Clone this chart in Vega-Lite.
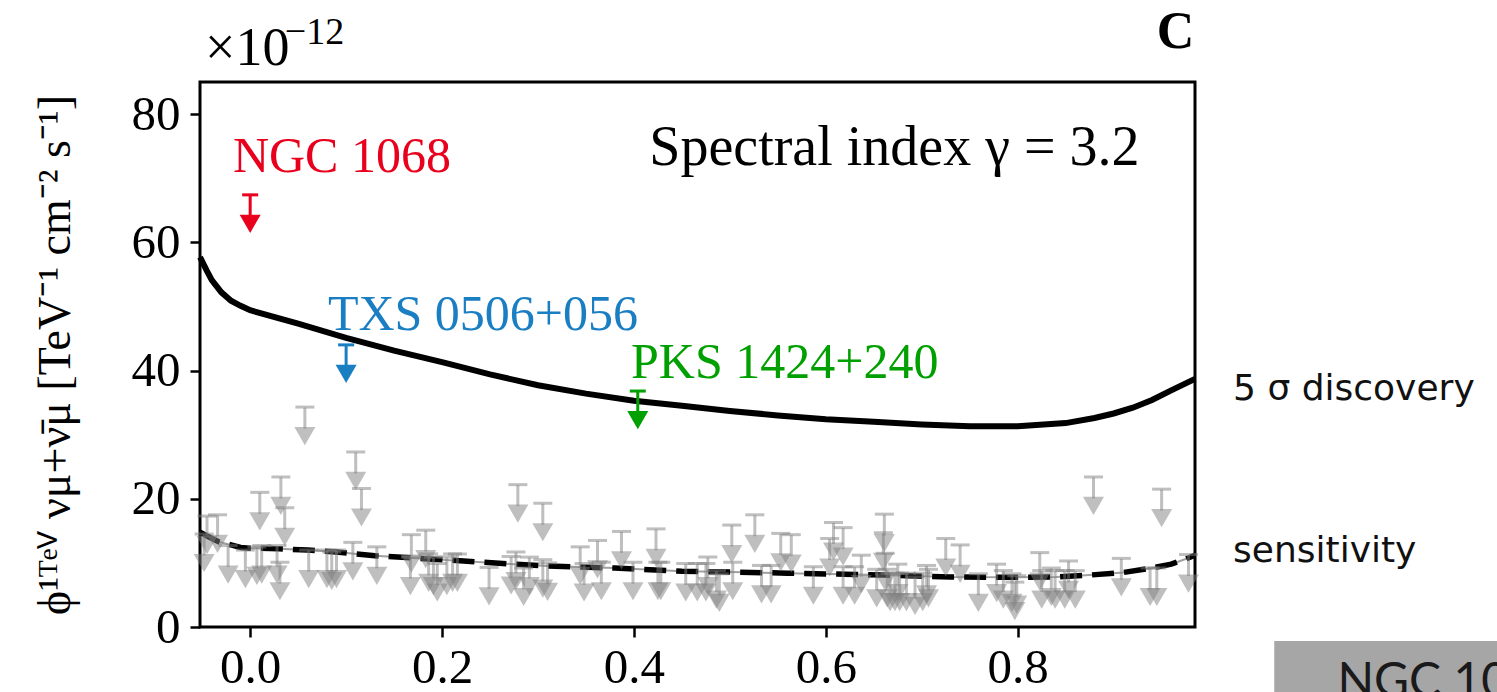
{
  "$schema": "https://vega.github.io/schema/vega-lite/v6.json",
  "width": 995,
  "height": 545,
  "autosize": {"type": "none"},
  "padding": {"left": 200, "top": 82, "right": 302, "bottom": 65},
  "background": "white",
  "config": {
    "view": {"stroke": "black", "strokeWidth": 3},
    "axis": {
      "domain": false, "grid": false, "tickColor": "black", "tickWidth": 2.5, "tickSize": 10,
      "labelFont": "Liberation Serif", "labelFontSize": 49, "labelColor": "black",
      "titleFont": "Liberation Serif", "titleFontWeight": "normal", "titleColor": "black"
    }
  },
  "datasets": {
    "discovery": [
      {"x": -0.0523, "flux": 57.7}, {"x": -0.045, "flux": 55.5}, {"x": -0.04, "flux": 54.1},
      {"x": -0.03, "flux": 52.2}, {"x": -0.02, "flux": 50.9}, {"x": -0.01, "flux": 50.1},
      {"x": 0.0, "flux": 49.4}, {"x": 0.05, "flux": 47.3}, {"x": 0.1, "flux": 45.1},
      {"x": 0.15, "flux": 43.1}, {"x": 0.2, "flux": 41.3}, {"x": 0.25, "flux": 39.4},
      {"x": 0.3, "flux": 37.7}, {"x": 0.35, "flux": 36.4}, {"x": 0.4, "flux": 35.3},
      {"x": 0.45, "flux": 34.5}, {"x": 0.5, "flux": 33.7}, {"x": 0.55, "flux": 33.0},
      {"x": 0.6, "flux": 32.4}, {"x": 0.65, "flux": 32.0}, {"x": 0.7, "flux": 31.6},
      {"x": 0.75, "flux": 31.3}, {"x": 0.8, "flux": 31.3}, {"x": 0.85, "flux": 31.8},
      {"x": 0.88, "flux": 32.6}, {"x": 0.9, "flux": 33.3}, {"x": 0.92, "flux": 34.2},
      {"x": 0.94, "flux": 35.4}, {"x": 0.96, "flux": 36.9}, {"x": 0.9848, "flux": 38.7}
    ],
    "sensitivity": [
      {"x": -0.0523, "flux": 14.8}, {"x": -0.045, "flux": 14.2}, {"x": -0.033, "flux": 13.3},
      {"x": -0.02, "flux": 12.8}, {"x": -0.01, "flux": 12.4}, {"x": 0.0, "flux": 12.3},
      {"x": 0.03, "flux": 12.2}, {"x": 0.06, "flux": 12.0}, {"x": 0.09, "flux": 11.7},
      {"x": 0.13, "flux": 11.1}, {"x": 0.2, "flux": 10.5}, {"x": 0.275, "flux": 9.8},
      {"x": 0.31, "flux": 9.5}, {"x": 0.38, "flux": 9.2}, {"x": 0.45, "flux": 8.7},
      {"x": 0.49, "flux": 8.6}, {"x": 0.56, "flux": 8.4}, {"x": 0.63, "flux": 8.2},
      {"x": 0.66, "flux": 8.1}, {"x": 0.73, "flux": 7.8}, {"x": 0.8, "flux": 7.75},
      {"x": 0.84, "flux": 7.8}, {"x": 0.875, "flux": 8.1}, {"x": 0.91, "flux": 8.5},
      {"x": 0.94, "flux": 9.2}, {"x": 0.96, "flux": 9.8}, {"x": 0.975, "flux": 10.6},
      {"x": 0.9848, "flux": 11.2}
    ],
    "limits": [
      {"x": -0.045, "ul": 17.3}, {"x": -0.034, "ul": 17.5}, {"x": -0.048, "ul": 14.5},
      {"x": -0.023, "ul": 12.7}, {"x": -0.005, "ul": 12.0}, {"x": 0.007, "ul": 12.5},
      {"x": 0.012, "ul": 12.7}, {"x": 0.028, "ul": 12.7}, {"x": 0.031, "ul": 10.1},
      {"x": 0.010, "ul": 21.0}, {"x": 0.032, "ul": 23.4}, {"x": 0.036, "ul": 18.6},
      {"x": 0.057, "ul": 34.3}, {"x": 0.061, "ul": 12.0}, {"x": 0.080, "ul": 12.0},
      {"x": 0.085, "ul": 11.7}, {"x": 0.090, "ul": 12.0}, {"x": 0.107, "ul": 13.2},
      {"x": 0.110, "ul": 27.3}, {"x": 0.116, "ul": 21.6}, {"x": 0.132, "ul": 12.5},
      {"x": 0.168, "ul": 14.4}, {"x": 0.183, "ul": 15.1}, {"x": 0.167, "ul": 10.9},
      {"x": 0.186, "ul": 11.4}, {"x": 0.191, "ul": 10.9}, {"x": 0.195, "ul": 9.9},
      {"x": 0.205, "ul": 10.9}, {"x": 0.211, "ul": 11.4}, {"x": 0.216, "ul": 11.4},
      {"x": 0.249, "ul": 9.3}, {"x": 0.272, "ul": 11.0}, {"x": 0.279, "ul": 22.2},
      {"x": 0.285, "ul": 9.2}, {"x": 0.277, "ul": 11.7}, {"x": 0.291, "ul": 10.9},
      {"x": 0.305, "ul": 19.3}, {"x": 0.305, "ul": 10.5}, {"x": 0.310, "ul": 10.0},
      {"x": 0.344, "ul": 12.5}, {"x": 0.348, "ul": 9.9}, {"x": 0.362, "ul": 13.5},
      {"x": 0.366, "ul": 10.1}, {"x": 0.387, "ul": 14.9}, {"x": 0.399, "ul": 10.1},
      {"x": 0.423, "ul": 15.3}, {"x": 0.425, "ul": 10.1}, {"x": 0.428, "ul": 10.1},
      {"x": 0.454, "ul": 9.9}, {"x": 0.466, "ul": 9.9}, {"x": 0.475, "ul": 9.9},
      {"x": 0.477, "ul": 10.9}, {"x": 0.486, "ul": 8.8}, {"x": 0.489, "ul": 8.3},
      {"x": 0.503, "ul": 10.1}, {"x": 0.502, "ul": 15.9}, {"x": 0.526, "ul": 17.5},
      {"x": 0.533, "ul": 9.6}, {"x": 0.543, "ul": 9.6}, {"x": 0.553, "ul": 14.6},
      {"x": 0.564, "ul": 14.4}, {"x": 0.587, "ul": 9.4}, {"x": 0.604, "ul": 13.8},
      {"x": 0.608, "ul": 16.3}, {"x": 0.618, "ul": 15.5}, {"x": 0.618, "ul": 9.4},
      {"x": 0.630, "ul": 9.4}, {"x": 0.637, "ul": 11.2}, {"x": 0.661, "ul": 17.6},
      {"x": 0.660, "ul": 14.7}, {"x": 0.662, "ul": 11.5}, {"x": 0.675, "ul": 9.8},
      {"x": 0.705, "ul": 9.6}, {"x": 0.725, "ul": 13.8}, {"x": 0.740, "ul": 12.8},
      {"x": 0.653, "ul": 9.0}, {"x": 0.664, "ul": 9.0}, {"x": 0.667, "ul": 8.4},
      {"x": 0.672, "ul": 8.4}, {"x": 0.677, "ul": 8.4}, {"x": 0.684, "ul": 8.4},
      {"x": 0.693, "ul": 7.8}, {"x": 0.701, "ul": 8.4}, {"x": 0.707, "ul": 9.0},
      {"x": 0.759, "ul": 8.3}, {"x": 0.778, "ul": 9.8}, {"x": 0.785, "ul": 8.8},
      {"x": 0.794, "ul": 8.3}, {"x": 0.799, "ul": 8.0}, {"x": 0.797, "ul": 7.0},
      {"x": 0.823, "ul": 11.6}, {"x": 0.835, "ul": 9.2}, {"x": 0.853, "ul": 10.3},
      {"x": 0.825, "ul": 8.8}, {"x": 0.839, "ul": 8.8}, {"x": 0.849, "ul": 8.8},
      {"x": 0.860, "ul": 8.8}, {"x": 0.879, "ul": 23.4}, {"x": 0.908, "ul": 10.7},
      {"x": 0.938, "ul": 9.2}, {"x": 0.945, "ul": 9.2}, {"x": 0.950, "ul": 21.5},
      {"x": 0.978, "ul": 11.3}
    ],
    "sources": [
      {"name": "NGC 1068", "x": 0.0, "ul": 67.4},
      {"name": "TXS 0506+056", "x": 0.1, "ul": 44.0},
      {"name": "PKS 1424+240", "x": 0.404, "ul": 36.8}
    ]
  },
  "encoding": {
    "x": {"field": "x", "type": "quantitative", "scale": {"domain": [-0.0523, 0.9848], "nice": false, "zero": false},
      "axis": {"values": [0, 0.2, 0.4, 0.6, 0.8], "format": ".1f", "labelPadding": 6, "title": null}},
    "y": {"field": "flux", "type": "quantitative", "scale": {"domain": [0, 85], "nice": false},
      "axis": {"values": [0, 20, 40, 60, 80], "labelPadding": 10,
        "title": "ϕ¹ᵀᵉⱽ νμ+ν̄μ  [TeV⁻¹ cm⁻² s⁻¹]", "titleFontSize": 46, "titlePadding": 52}}
  },
  "layer": [
    {"data": {"name": "sensitivity"}, "mark": {"type": "line", "color": "#a0a0a0", "strokeWidth": 2}},
    {"data": {"name": "sensitivity"}, "mark": {"type": "line", "color": "black", "strokeWidth": 5.5, "strokeDash": [22, 10]}},
    {"data": {"name": "discovery"}, "mark": {"type": "line", "color": "black", "strokeWidth": 6}},
    {"data": {"name": "limits"}, "mark": {"type": "tick", "orient": "horizontal", "size": 19, "thickness": 3, "color": "#808080", "opacity": 0.5},
      "encoding": {"y": {"field": "ul", "type": "quantitative"}}},
    {"data": {"name": "limits"}, "mark": {"type": "tick", "orient": "vertical", "size": 21, "thickness": 3, "color": "#808080", "opacity": 0.5, "yOffset": 11},
      "encoding": {"y": {"field": "ul", "type": "quantitative"}}},
    {"data": {"name": "limits"}, "mark": {"type": "point", "shape": "triangle-down", "size": 441, "filled": true, "color": "#808080", "opacity": 0.5, "yOffset": 29},
      "encoding": {"y": {"field": "ul", "type": "quantitative"}}},
    {"data": {"name": "sources"}, "mark": {"type": "tick", "orient": "horizontal", "size": 16, "thickness": 3, "opacity": 1},
      "encoding": {"y": {"field": "ul", "type": "quantitative"},
        "color": {"field": "name", "type": "nominal", "scale": {"domain": ["NGC 1068", "TXS 0506+056", "PKS 1424+240"], "range": ["#e8001d", "#1a7ec3", "#00a000"]}, "legend": null}}},
    {"data": {"name": "sources"}, "mark": {"type": "tick", "orient": "vertical", "size": 21, "thickness": 3, "opacity": 1, "yOffset": 11},
      "encoding": {"y": {"field": "ul", "type": "quantitative"},
        "color": {"field": "name", "type": "nominal", "legend": null}}},
    {"data": {"name": "sources"}, "mark": {"type": "point", "shape": "triangle-down", "size": 441, "filled": true, "opacity": 1, "yOffset": 29},
      "encoding": {"y": {"field": "ul", "type": "quantitative"},
        "color": {"field": "name", "type": "nominal", "legend": null}}},
    {"data": {"values": [
        {"name": "NGC 1068", "x": -0.018, "flux": 71.0},
        {"name": "TXS 0506+056", "x": 0.081, "flux": 46.3},
        {"name": "PKS 1424+240", "x": 0.397, "flux": 38.8}
      ]},
      "mark": {"type": "text", "font": "Liberation Serif", "fontSize": 50, "align": "left", "baseline": "alphabetic"},
      "encoding": {"text": {"field": "name"}, "color": {"field": "name", "type": "nominal", "legend": null}}},
    {"data": {"values": [{"label": "Spectral index γ = 3.2", "x": 0.416, "flux": 72.1}]},
      "mark": {"type": "text", "font": "Liberation Serif", "fontSize": 56, "align": "left", "baseline": "alphabetic", "color": "black"},
      "encoding": {"text": {"field": "label"}}},
    {"data": {"values": [{"label": "×10", "x": -0.047, "flux": 87.7}]},
      "mark": {"type": "text", "font": "Liberation Serif", "fontSize": 54, "align": "left", "baseline": "alphabetic", "color": "black", "clip": false},
      "encoding": {"text": {"field": "label"}}},
    {"data": {"values": [{"label": "−12", "x": 0.036, "flux": 91.0}]},
      "mark": {"type": "text", "font": "Liberation Serif", "fontSize": 38, "align": "left", "baseline": "alphabetic", "color": "black", "clip": false},
      "encoding": {"text": {"field": "label"}}},
    {"data": {"values": [{"label": "C", "x": 0.984, "flux": 90.3}]},
      "mark": {"type": "text", "font": "Liberation Serif", "fontSize": 52, "fontWeight": "bold", "align": "right", "baseline": "alphabetic", "color": "black", "clip": false},
      "encoding": {"text": {"field": "label"}}},
    {"data": {"values": [
        {"label": "5 σ discovery", "x": 1.0245, "flux": 35.4},
        {"label": "sensitivity", "x": 1.0245, "flux": 10.1}
      ]},
      "mark": {"type": "text", "font": "DejaVu Sans", "fontSize": 36, "align": "left", "baseline": "alphabetic", "color": "#111111", "clip": false},
      "encoding": {"text": {"field": "label"}}},
    {"data": {"values": [{"x": 1.0674, "x2": 1.45, "flux": -2.2, "flux2": -20}]},
      "mark": {"type": "rect", "color": "#a6a6a6", "clip": false},
      "encoding": {"x2": {"field": "x2"}, "y2": {"field": "flux2"}}},
    {"data": {"values": [{"label": "NGC 1068", "x": 1.1332, "flux": -10.9}]},
      "mark": {"type": "text", "font": "Lato", "fontSize": 48, "align": "left", "baseline": "alphabetic", "color": "#1a1a1a", "clip": false},
      "encoding": {"text": {"field": "label"}}}
  ]
}
